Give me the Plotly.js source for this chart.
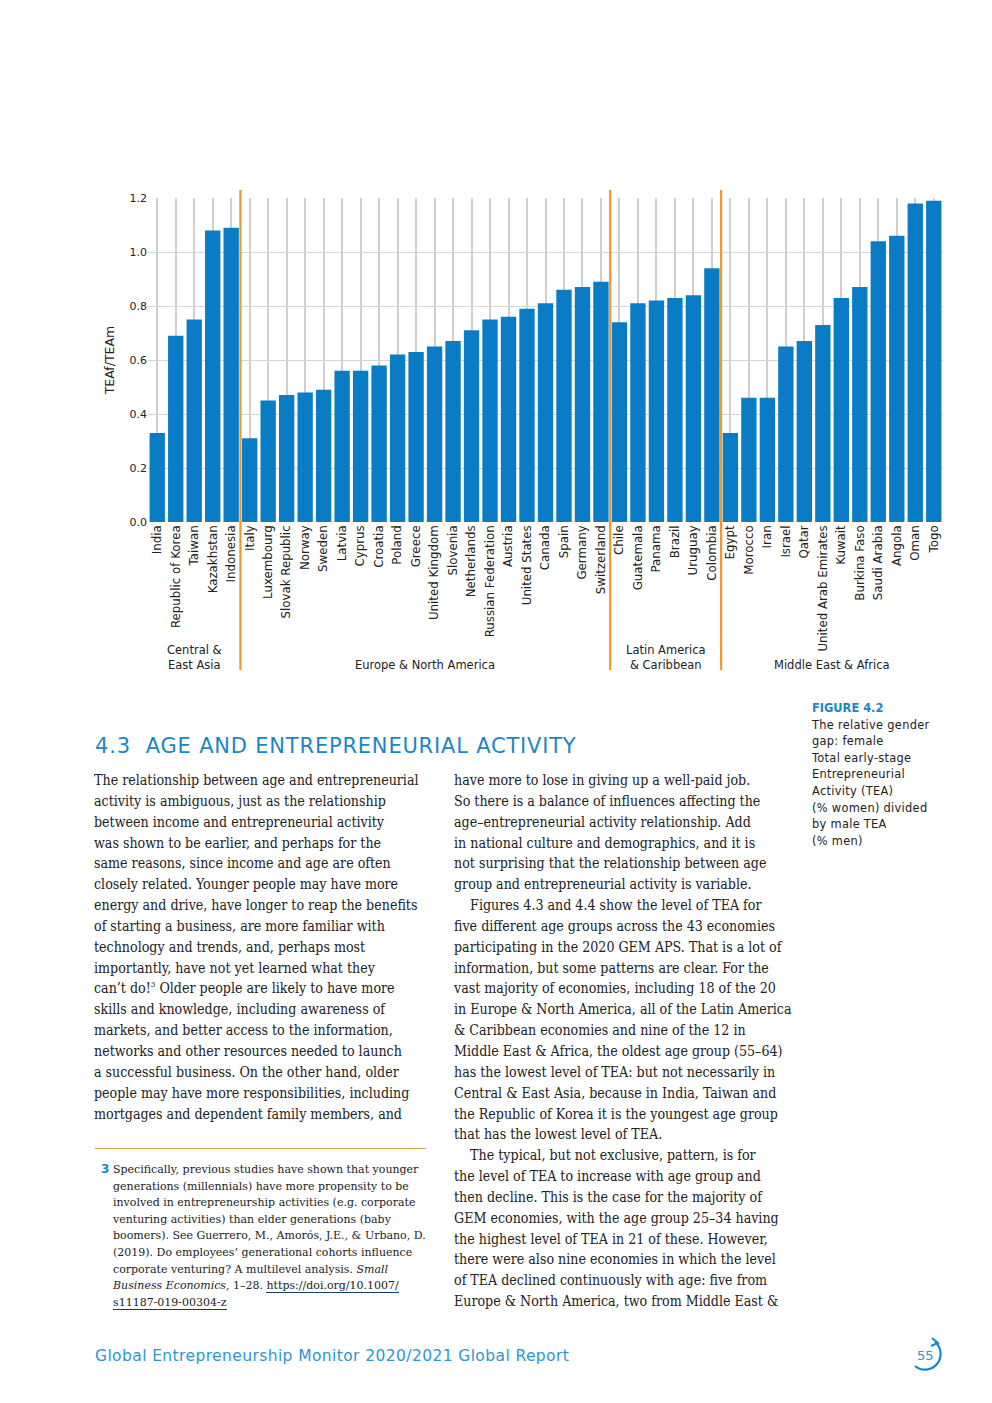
<!DOCTYPE html>
<html>
<head>
<meta charset="utf-8">
<script src="https://cdn.plot.ly/plotly-3.0.1.min.js"></script>
<style>
  html, body { margin:0; padding:0; background:#fff; }
  body { width:992px; height:1403px; position:relative; overflow:hidden; }
  #chart { position:absolute; left:0; top:0; width:992px; height:690px; }
  .abs { position:absolute; white-space:nowrap; }
  .body { font-family:"DejaVu Serif Condensed","DejaVu Serif",serif; font-stretch:condensed; font-size:14.1px; line-height:20.84px; color:#222; }
  .fn { font-family:"DejaVu Serif",serif; font-size:11px; line-height:16.6px; color:#222; }
  .cap { font-family:"DejaVu Sans",sans-serif; font-size:11.4px; line-height:16.6px; color:#222; letter-spacing:0.3px; }
</style>
</head>
<body>
<div id="chart"></div>

<div class="abs" style="left:95px; top:734px; font-family:'DejaVu Sans',sans-serif; font-size:21px; color:#1b86c6; letter-spacing:0.8px;">4.3&nbsp; AGE AND ENTREPRENEURIAL ACTIVITY</div>

<div class="abs cap" style="left:812px; top:700px;">
<span style="color:#1b86c6; font-weight:bold; letter-spacing:0;">FIGURE 4.2</span><br>
The relative gender<br>gap: female<br>Total early-stage<br>Entrepreneurial<br>Activity (TEA)<br>(% women) divided<br>by male TEA<br>(% men)
</div>

<div class="abs body" style="left:94px; top:770px;">
The relationship between age and entrepreneurial<br>
activity is ambiguous, just as the relationship<br>
between income and entrepreneurial activity<br>
was shown to be earlier, and perhaps for the<br>
same reasons, since income and age are often<br>
closely related. Younger people may have more<br>
energy and drive, have longer to reap the benefits<br>
of starting a business, are more familiar with<br>
technology and trends, and, perhaps most<br>
importantly, have not yet learned what they<br>
can’t do!<sup style="font-size:8px; line-height:0;">3</sup> Older people are likely to have more<br>
skills and knowledge, including awareness of<br>
markets, and better access to the information,<br>
networks and other resources needed to launch<br>
a successful business. On the other hand, older<br>
people may have more responsibilities, including<br>
mortgages and dependent family members, and
</div>

<div class="abs body" style="left:454px; top:770px;">
have more to lose in giving up a well-paid job.<br>
So there is a balance of influences affecting the<br>
age–entrepreneurial activity relationship. Add<br>
in national culture and demographics, and it is<br>
not surprising that the relationship between age<br>
group and entrepreneurial activity is variable.<br>
&nbsp;&nbsp;&nbsp;&nbsp;Figures 4.3 and 4.4 show the level of TEA for<br>
five different age groups across the 43 economies<br>
participating in the 2020 GEM APS. That is a lot of<br>
information, but some patterns are clear. For the<br>
vast majority of economies, including 18 of the 20<br>
in Europe &amp; North America, all of the Latin America<br>
&amp; Caribbean economies and nine of the 12 in<br>
Middle East &amp; Africa, the oldest age group (55–64)<br>
has the lowest level of TEA: but not necessarily in<br>
Central &amp; East Asia, because in India, Taiwan and<br>
the Republic of Korea it is the youngest age group<br>
that has the lowest level of TEA.<br>
&nbsp;&nbsp;&nbsp;&nbsp;The typical, but not exclusive, pattern, is for<br>
the level of TEA to increase with age group and<br>
then decline. This is the case for the majority of<br>
GEM economies, with the age group 25–34 having<br>
the highest level of TEA in 21 of these. However,<br>
there were also nine economies in which the level<br>
of TEA declined continuously with age: five from<br>
Europe &amp; North America, two from Middle East &amp;
</div>

<div class="abs" style="left:95px; top:1148px; width:331px; height:1px; background:#c9a54a;"></div>

<div class="abs fn" style="left:101px; top:1161px; color:#1b86c6; font-family:'DejaVu Sans',sans-serif; font-weight:bold; font-size:12px;">3</div>
<div class="abs fn" style="left:113px; top:1162px;">
Specifically, previous studies have shown that younger<br>
generations (millennials) have more propensity to be<br>
involved in entrepreneurship activities (e.g. corporate<br>
venturing activities) than elder generations (baby<br>
boomers). See Guerrero, M., Amorós, J.E., &amp; Urbano, D.<br>
(2019). Do employees’ generational cohorts influence<br>
corporate venturing? A multilevel analysis. <i>Small</i><br>
<i>Business Economics</i>, 1–28. <span style="border-bottom:1px solid #1a3a5a;">https://doi.org/10.1007/</span><br>
<span style="border-bottom:1px solid #1a3a5a;">s11187-019-00304-z</span>
</div>

<div class="abs" style="left:95px; top:1347px; font-family:'DejaVu Sans',sans-serif; font-size:15.5px; color:#2f95cf; letter-spacing:0.4px;">Global Entrepreneurship Monitor 2020/2021 Global Report</div>

<svg class="abs" style="left:905px; top:1336px;" width="44" height="40" viewBox="0 0 44 40">
  <path d="M 30 6 A 15 15 0 1 1 10 30" fill="none" stroke="#1b86c6" stroke-width="2.2"/>
  <path d="M 27 2 L 33 7 L 26 10" fill="none" stroke="#1b86c6" stroke-width="2"/>
  <text x="12" y="24" font-family="DejaVu Sans" font-size="13" fill="#2f95cf">55</text>
</svg>

<script>
const countries = ["India","Republic of Korea","Taiwan","Kazakhstan","Indonesia",
  "Italy","Luxembourg","Slovak Republic","Norway","Sweden","Latvia","Cyprus","Croatia","Poland","Greece",
  "United Kingdom","Slovenia","Netherlands","Russian Federation","Austria","United States","Canada","Spain","Germany","Switzerland",
  "Chile","Guatemala","Panama","Brazil","Uruguay","Colombia",
  "Egypt","Morocco","Iran","Israel","Qatar","United Arab Emirates","Kuwait","Burkina Faso","Saudi Arabia","Angola","Oman","Togo"];
const ratio = [0.33,0.69,0.75,1.08,1.09,
  0.31,0.45,0.47,0.48,0.49,0.56,0.56,0.58,0.62,0.63,
  0.65,0.67,0.71,0.75,0.76,0.79,0.81,0.86,0.87,0.89,
  0.74,0.81,0.82,0.83,0.84,0.94,
  0.33,0.46,0.46,0.65,0.67,0.73,0.83,0.87,1.04,1.06,1.18,1.19];
const regionNames = ["Central &<br>East Asia","Europe & North America","Latin America<br>& Caribbean","Middle East & Africa"];
const regionCounts = [5,20,6,12];
const yTicks = [0,0.2,0.4,0.6,0.8,1.0,1.2];
const yTickText = ["0.0","0.2","0.4","0.6","0.8","1.0","1.2"];

const idx = countries.map((c,i)=>i);
const shapes = [], annotations = [];
let start = 0;
regionCounts.forEach((n,k)=>{
  const center = start + (n-1)/2;
  annotations.push({x:center, xref:'x', y:-0.468, yref:'paper', yanchor:'bottom', showarrow:false,
    text:regionNames[k], align:'center',
    font:{family:'DejaVu Sans, sans-serif', size:11.5, color:'#222'}});
  start += n;
  if (k < regionCounts.length-1) {
    shapes.push({type:'line', xref:'x', yref:'paper', x0:start-0.5, x1:start-0.5, y0:-0.457, y1:1.025,
      line:{color:'#f0962a', width:2.2}});
  }
});

Plotly.newPlot('chart', [{
  type:'bar', x:idx, y:ratio, marker:{color:'#0a7cc6'}, hoverinfo:'skip'
}], {
  width:992, height:690,
  margin:{l:148, r:49, t:198, b:168},
  paper_bgcolor:'rgba(0,0,0,0)', plot_bgcolor:'#fff',
  bargap:0.17, showlegend:false,
  font:{family:'DejaVu Sans, sans-serif', size:11, color:'#222'},
  xaxis:{tickmode:'array', tickvals:idx, ticktext:countries, tickangle:-90, tickson:'boundaries',
    ticks:'', showgrid:true, gridcolor:'#cfcfcf', gridwidth:2, range:[-0.5,42.5], zeroline:false,
    showline:false, tickfont:{size:11.8, color:'#222'}, automargin:false},
  yaxis:{range:[0,1.2], tickmode:'array', tickvals:yTicks, ticktext:yTickText, showgrid:true,
    gridcolor:'#d6d6d6', gridwidth:1, zeroline:false, showline:false, ticks:'', ticklen:0,
    tickfont:{size:11, color:'#222'}, automargin:false,
    title:{text:'TEAf/TEAm', font:{size:12.5, color:'#222'}, standoff:12}},
  shapes:shapes, annotations:annotations
}, {staticPlot:true});
</script>
</body>
</html>
